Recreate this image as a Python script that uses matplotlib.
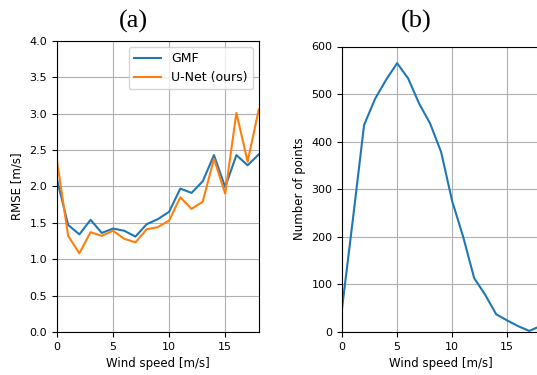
import numpy as np
import matplotlib.pyplot as plt

# Velocidad del viento (bins)
wind = np.arange(0, 19)

# RMSE por bin
rmse_gmf = [2.10, 1.47, 1.34, 1.54, 1.36, 1.42, 1.39, 1.31, 1.48, 1.55,
            1.65, 1.97, 1.91, 2.07, 2.43, 1.99, 2.43, 2.29, 2.44]
rmse_unet = [2.36, 1.32, 1.08, 1.37, 1.32, 1.39, 1.28, 1.23, 1.41, 1.44,
             1.53, 1.85, 1.69, 1.79, 2.38, 1.90, 3.01, 2.34, 3.06]

# Numero de puntos por bin
n_points = [50, 240, 435, 490, 530, 565, 533, 480, 438, 378,
            275, 200, 113, 78, 37, 24, 12, 2, 12]

fig = plt.figure(figsize=(5.37, 3.75), dpi=100)

# ---- (a) RMSE ----
ax1 = fig.add_axes([0.106, 0.115, 0.376, 0.776])
ax1.plot(wind, rmse_gmf, color='#1f77b4', label='GMF')
ax1.plot(wind, rmse_unet, color='#ff7f0e', label='U-Net (ours)')
ax1.set_xlim(0, 18)
ax1.set_ylim(0, 4.0)
ax1.set_xticks([0, 5, 10, 15])
ax1.set_yticks(np.arange(0, 4.01, 0.5))
ax1.set_xlabel('Wind speed [m/s]', fontsize=8.5)
ax1.set_ylabel('RMSE [m/s]', fontsize=8.5)
ax1.tick_params(labelsize=8)
ax1.grid(True)
ax1.legend(fontsize=9, loc='upper right', handlelength=2.2)

# ---- (b) Numero de puntos ----
ax2 = fig.add_axes([0.637, 0.115, 0.369, 0.761])
ax2.plot(wind, n_points, color='#1f77b4')
ax2.set_xlim(0, 18)
ax2.set_ylim(0, 600)
ax2.set_xticks([0, 5, 10, 15])
ax2.set_xlabel('Wind speed [m/s]', fontsize=8.5)
ax2.set_ylabel('Number of points', fontsize=8.5)
ax2.tick_params(labelsize=8)
ax2.grid(True)

# Titulos de los paneles
fig.text(133 / 537, 1 - 21 / 375, '(a)', family='Liberation Serif',
         fontsize=19, ha='center', va='center')
fig.text(416 / 537, 1 - 21 / 375, '(b)', family='Liberation Serif',
         fontsize=19, ha='center', va='center')

fig.savefig('out.png', dpi=100)
